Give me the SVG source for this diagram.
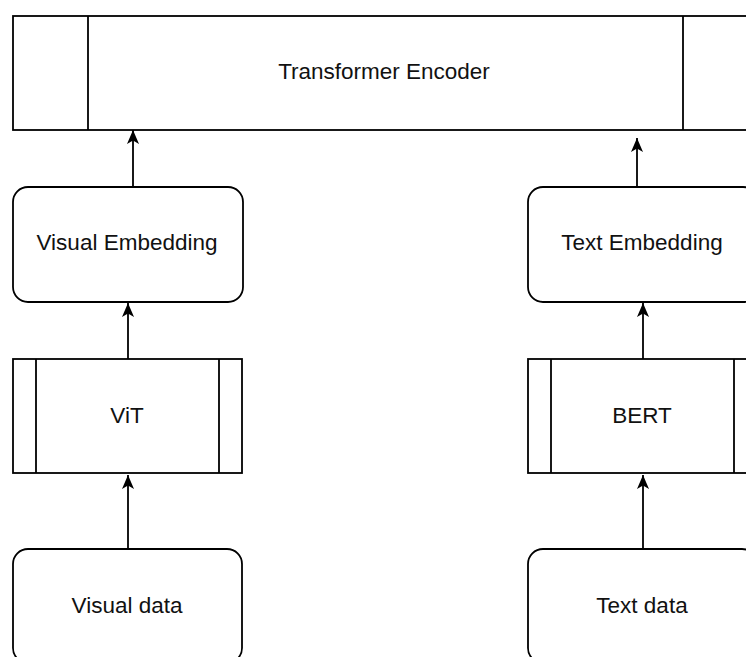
<svg xmlns="http://www.w3.org/2000/svg" width="746" height="657" viewBox="0 0 746 657">
  <style>
    .box { fill: #ffffff; stroke: #000000; stroke-width: 1.8; }
    .div { fill: none; stroke: #000000; stroke-width: 1.8; }
    .lbl { font-family: "Liberation Sans", Arial, Helvetica, sans-serif; font-size: 22.5px; fill: #111111; text-anchor: middle; }
    .edge { fill: none; stroke: #000000; stroke-width: 1.8; marker-end: url(#arrow); }
  </style>
  <defs>
    <marker id="arrow" markerUnits="userSpaceOnUse" markerWidth="16" markerHeight="13" viewBox="0 0 16 13" refX="14" refY="6.5" orient="auto">
      <path d="M0,0.5 L14,6.5 L0,12.5 L3.5,6.5 Z" fill="#000000"/>
    </marker>
  </defs>
  <rect width="746" height="657" fill="#ffffff"/>

  <g id="transformer-encoder">
    <rect class="box" x="13" y="16" width="745" height="114"/>
    <line class="div" x1="88" y1="16" x2="88" y2="130"/>
    <line class="div" x1="683" y1="16" x2="683" y2="130"/>
    <text class="lbl" x="384" y="79">Transformer Encoder</text>
  </g>

  <g id="visual-embedding">
    <rect class="box" x="13" y="187" width="230" height="115" rx="15" ry="15"/>
    <text class="lbl" x="127" y="250">Visual Embedding</text>
  </g>

  <g id="text-embedding">
    <rect class="box" x="528" y="187" width="230" height="115" rx="15" ry="15"/>
    <text class="lbl" x="642" y="250">Text Embedding</text>
  </g>

  <g id="vit">
    <rect class="box" x="13" y="359" width="229" height="114"/>
    <line class="div" x1="36" y1="359" x2="36" y2="473"/>
    <line class="div" x1="219" y1="359" x2="219" y2="473"/>
    <text class="lbl" x="127" y="423">ViT</text>
  </g>

  <g id="bert">
    <rect class="box" x="528" y="359" width="229" height="114"/>
    <line class="div" x1="551" y1="359" x2="551" y2="473"/>
    <line class="div" x1="734" y1="359" x2="734" y2="473"/>
    <text class="lbl" x="642" y="423">BERT</text>
  </g>

  <g id="visual-data">
    <rect class="box" x="13" y="549" width="229" height="114" rx="15" ry="15"/>
    <text class="lbl" x="127" y="613">Visual data</text>
  </g>

  <g id="text-data">
    <rect class="box" x="528" y="549" width="229" height="114" rx="15" ry="15"/>
    <text class="lbl" x="642" y="613">Text data</text>
  </g>

  <g id="connectors">
    <line class="edge" x1="133" y1="187" x2="133" y2="130"/>
    <line class="edge" x1="637" y1="187" x2="637" y2="138"/>
    <line class="edge" x1="128" y1="359" x2="128" y2="303"/>
    <line class="edge" x1="643" y1="359" x2="643" y2="303"/>
    <line class="edge" x1="128" y1="549" x2="128" y2="475"/>
    <line class="edge" x1="643" y1="549" x2="643" y2="475"/>
  </g>
</svg>
